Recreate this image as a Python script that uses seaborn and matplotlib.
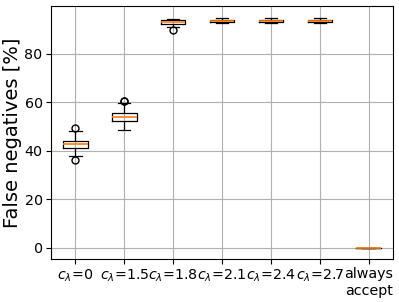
import pandas as pd
import seaborn as sns
import matplotlib.pyplot as plt

labels = ["$c_\\lambda$=0", "$c_\\lambda$=1.5", "$c_\\lambda$=1.8", "$c_\\lambda$=2.1",
          "$c_\\lambda$=2.4", "$c_\\lambda$=2.7", "always\naccept"]

fn_c0 = [36.3, 37.7, 41.1, 42.0, 42.8, 43.5, 44.1, 48.2, 49.6]
fn_c15 = [48.7, 50.5, 52.0, 52.4, 53.0, 53.6, 54.1, 54.6, 55.0, 55.5, 59.7, 60.4, 60.7]
fn_c18 = [89.8, 91.1, 92.4, 92.8, 93.2, 93.6, 93.9, 94.3, 94.6]
fn_c21 = [92.8, 93.1, 93.4, 93.6, 93.8, 94.0, 94.2, 94.5, 94.8]
fn_c24 = [92.8, 93.1, 93.4, 93.6, 93.8, 94.0, 94.2, 94.5, 94.8]
fn_c27 = [92.8, 93.1, 93.4, 93.6, 93.8, 94.0, 94.2, 94.5, 94.8]
fn_always = [0.0, 0.0, 0.0, 0.0, 0.0, 0.0, 0.0, 0.0, 0.0]

groups = [fn_c0, fn_c15, fn_c18, fn_c21, fn_c24, fn_c27, fn_always]
df = pd.DataFrame({
    "method": [lab for lab, vals in zip(labels, groups) for _ in vals],
    "fn": [v for vals in groups for v in vals],
})

fig, ax = plt.subplots(figsize=(3.99, 3.02), dpi=100)
fig.subplots_adjust(left=0.128, right=0.985, top=0.98, bottom=0.142)

sns.boxplot(
    data=df, x="method", y="fn", order=labels, ax=ax,
    width=0.5, fill=False, color="black", linewidth=0.9,
    medianprops={"color": "#ff7f0e", "linewidth": 1.2},
    flierprops={"marker": "o", "markerfacecolor": "none",
                "markeredgecolor": "black", "markersize": 5},
)

# seaborn switches the x grid off for categorical axes
ax.grid(True, axis="both", color="#b0b0b0", linewidth=0.8)
ax.set_axisbelow(True)

ax.set_xlabel("")
ax.set_ylabel("False negatives [%]", fontsize=14, labelpad=2)
ax.tick_params(labelsize=10.3, pad=2.5)
for t in ax.get_xticklabels():
    t.set_multialignment("right")
ax.set_xlim(-0.5, 6.5)
ax.set_ylim(-4.75, 99.8)
ax.set_yticks([0, 20, 40, 60, 80])

fig.savefig("out.png", dpi=100)
